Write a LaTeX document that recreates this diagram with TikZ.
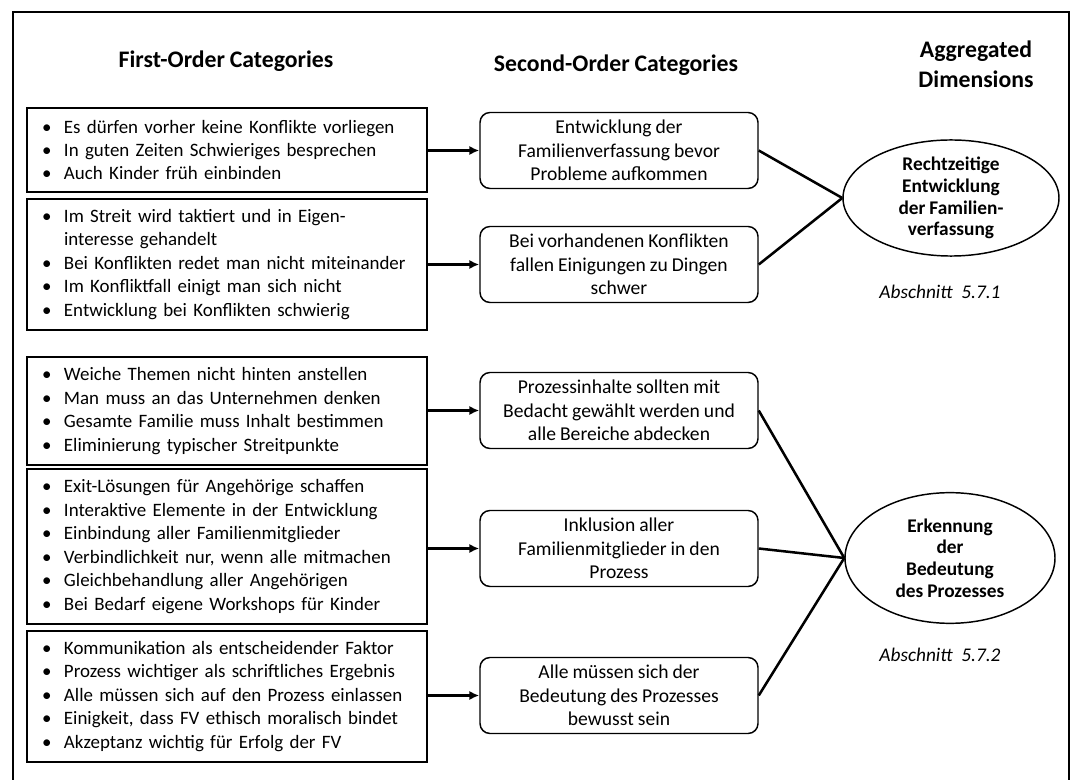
\documentclass[tikz,border=0pt]{standalone}
\usepackage{fontspec}
\setmainfont{Carlito}[WordSpace={0.9,0,0}]
\usetikzlibrary{shapes.geometric,arrows.meta}

% bullet item and its continuation line, kept on one line each
\newcommand{\bl}[1]{\makebox[16.5pt][l]{\textbullet}\mbox{#1}}
\newcommand{\cont}[1]{\hspace*{16.5pt}\mbox{#1}}

\tikzset{
  firstbox/.style={draw, line width=1.1pt, minimum width=300pt, text width=277.5pt,
    inner xsep=11.25pt, inner ysep=0pt, align=left,
    font=\fontsize{14.2}{17.6}\selectfont},
  secondbox/.style={draw, line width=1.1pt, rounded corners=7.5pt, minimum width=208.5pt,
    minimum height=57pt, inner sep=0pt, align=center,
    font=\fontsize{14.7}{17.6}\selectfont},
  dimension/.style={ellipse, draw, line width=1.1pt, inner sep=0pt, align=center,
    font=\bfseries\fontsize{14.5}{16.3}\selectfont},
  heading/.style={font=\bfseries\fontsize{17.8}{22.5}\selectfont, align=center},
  sectionref/.style={font=\itshape\fontsize{14.5}{17}\selectfont},
  feeds/.style={line width=1.9pt, -{Latex[length=7.5pt,width=7pt]}},
  joins/.style={line width=1.9pt},
}

\begin{document}
\begin{tikzpicture}[x=0.75pt,y=-0.75pt]
\useasboundingbox (0,0) rectangle (1076,780);

% outer frame
\draw[line width=1.5pt] (13,780) -- (13,12) -- (1069,12) -- (1069,780);

% column headings
\node[heading] (h1) at (226,61) {First-Order Categories};
\node[heading] (h2) at (616,65) {Second-Order Categories};
\node[heading] (h3) at (976,64) {Aggregated\\Dimensions};

% first-order categories
\node[firstbox, minimum height=63pt] (b1) at (227,150) {%
\bl{Es dürfen vorher keine Konflikte vorliegen}\\
\bl{In guten Zeiten Schwieriges besprechen}\\
\bl{Auch Kinder früh einbinden}};
\node[firstbox, minimum height=98.25pt] (b2) at (227,264.5) {%
\bl{Im Streit wird taktiert und in Eigen-}\\
\cont{interesse gehandelt}\\
\bl{Bei Konflikten redet man nicht miteinander}\\
\bl{Im Konfliktfall einigt man sich nicht}\\
\bl{Entwicklung bei Konflikten schwierig}};
\node[firstbox, minimum height=81pt] (b3) at (227,411) {%
\bl{Weiche Themen nicht hinten anstellen}\\
\bl{Man muss an das Unternehmen denken}\\
\bl{Gesamte Familie muss Inhalt bestimmen}\\
\bl{Eliminierung typischer Streitpunkte}};
\node[firstbox, minimum height=116.25pt] (b4) at (227,546.5) {%
\bl{Exit-Lösungen für Angehörige schaffen}\\
\bl{Interaktive Elemente in der Entwicklung}\\
\bl{Einbindung aller Familienmitglieder}\\
\bl{Verbindlichkeit nur, wenn alle mitmachen}\\
\bl{Gleichbehandlung aller Angehörigen}\\
\bl{Bei Bedarf eigene Workshops für Kinder}};
\node[firstbox, minimum height=98.25pt] (b5) at (227,696.5) {%
\bl{Kommunikation als entscheidender Faktor}\\
\bl{Prozess wichtiger als schriftliches Ergebnis}\\
\bl{Alle müssen sich auf den Prozess einlassen}\\
\bl{Einigkeit, dass FV ethisch moralisch bindet}\\
\bl{Akzeptanz wichtig für Erfolg der FV}};

% second-order categories
\node[secondbox] (s1) at (619,150.5) {Entwicklung der\\Familienverfassung bevor\\Probleme aufkommen};
\node[secondbox] (s2) at (619,264.5) {Bei vorhandenen Konflikten\\fallen Einigungen zu Dingen\\schwer};
\node[secondbox] (s3) at (619,410.5) {Prozessinhalte sollten mit\\Bedacht gewählt werden und\\alle Bereiche abdecken};
\node[secondbox] (s4) at (619,548.5) {Inklusion aller\\Familienmitglieder in den\\Prozess};
\node[secondbox] (s5) at (619,695.5) {Alle müssen sich der\\Bedeutung des Prozesses\\bewusst sein};

% aggregated dimensions
\node[dimension, minimum width=162pt, minimum height=87pt] (e1) at (951,198)
  {Rechtzeitige\\Entwicklung\\der Familien-\\verfassung};
\node[dimension, minimum width=157.5pt, minimum height=98pt] (e2) at (950,558)
  {Erkennung\\der\\Bedeutung\\des Prozesses};
\node[sectionref] (r1) at (940,292) {Abschnitt\hspace{0.45em}5.7.1};
\node[sectionref] (r2) at (940,655) {Abschnitt\hspace{0.45em}5.7.2};

% first-order to second-order arrows
\foreach \i in {1,...,5}
  \draw[feeds] (s\i.west -| b\i.east) -- (s\i.west);

% second-order to aggregated dimensions
\draw[joins] (s1.east) -- (e1.west);
\draw[joins] (s2.east) -- (e1.west);
\draw[joins] (s3.east) -- (e2.west);
\draw[joins] (s4.east) -- (e2.west);
\draw[joins] (s5.east) -- (e2.west);
\end{tikzpicture}
\end{document}
